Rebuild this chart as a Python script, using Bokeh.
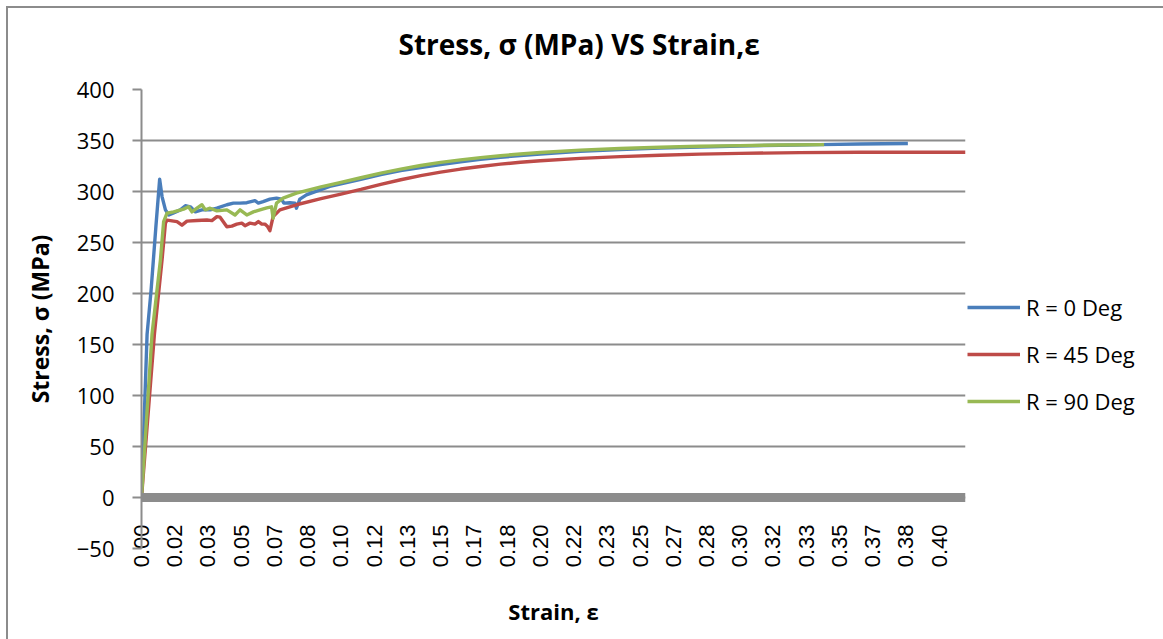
import math
from bokeh.plotting import figure
from bokeh.models import (Range1d, FixedTicker, Legend, LegendItem, Span,
                          ColumnDataSource, CustomJSTickFormatter, Title)
from bokeh.embed import file_html
from bokeh.resources import INLINE

# ---------------- data ----------------
strain_0 = [0.0, 0.0028, 0.0048, 0.0072, 0.0091, 0.0103, 0.0120, 0.0137, 0.0161, 0.0195,
            0.0220, 0.0245, 0.0270, 0.0303, 0.0344, 0.0378, 0.0428, 0.0461, 0.0494, 0.0528,
            0.0569, 0.0586, 0.0610, 0.0644, 0.0677, 0.0702, 0.0714, 0.0744, 0.0769, 0.0777,
            0.0794, 0.0827, 0.0944, 0.1000, 0.1100, 0.1200, 0.1300, 0.1400, 0.1500, 0.1600,
            0.1700, 0.1800, 0.1900, 0.2000, 0.2200, 0.2400, 0.2600, 0.2800, 0.3000, 0.3200,
            0.3400, 0.3600, 0.3843]
stress_0 = [0, 160, 203, 265, 312, 295, 282, 277, 279, 282,
            286, 285, 280, 282, 282, 283.6, 287, 288.6, 288.6, 289,
            291, 288.6, 290, 292.5, 293.5, 292.5, 288.6, 289, 288.6, 283.6,
            292.5, 296.7, 305, 307.5, 312, 316.5, 320.5, 323.5, 326.5, 329,
            331.5, 333.5, 335.3, 336.8, 339.3, 341.2, 342.6, 343.7, 344.6, 345.4,
            346, 346.5, 347]

strain_45 = [0.0, 0.0065, 0.0103, 0.0120, 0.0128, 0.0145, 0.0178, 0.0203, 0.0228, 0.0278,
             0.0328, 0.0353, 0.0378, 0.0394, 0.0428, 0.0453, 0.0478, 0.0503, 0.0519, 0.0544,
             0.0569, 0.0586, 0.0603, 0.0619, 0.0631, 0.0644, 0.0660, 0.0694, 0.0777, 0.0900,
             0.1000, 0.1100, 0.1200, 0.1300, 0.1400, 0.1500, 0.1600, 0.1700, 0.1800, 0.1900,
             0.2000, 0.2200, 0.2400, 0.2600, 0.2800, 0.3000, 0.3300, 0.3600, 0.4132]
stress_45 = [0, 160.6, 233, 269, 272, 271.5, 270.5, 267, 271, 271.5,
             272, 271.5, 275.4, 274.8, 265.5, 266, 268, 269, 266.5, 269,
             268, 270.5, 268, 268, 266, 261.6, 275.4, 282, 287, 293,
             297.5, 302, 307, 311.5, 315.5, 319, 322, 324.5, 326.8, 328.7,
             330.2, 332.5, 334.2, 335.5, 336.6, 337.4, 338.1, 338.5, 338.5]

strain_90 = [0.0, 0.0053, 0.0095, 0.0111, 0.0128, 0.0161, 0.0211, 0.0236, 0.0253, 0.0278,
             0.0303, 0.0320, 0.0344, 0.0378, 0.0428, 0.0469, 0.0494, 0.0528, 0.0561, 0.0594,
             0.0628, 0.0652, 0.0660, 0.0677, 0.0710, 0.0777, 0.0900, 0.1000, 0.1100, 0.1200,
             0.1300, 0.1400, 0.1500, 0.1600, 0.1700, 0.1800, 0.1900, 0.2000, 0.2200, 0.2400,
             0.2600, 0.2800, 0.3000, 0.3200, 0.3423]
stress_90 = [0, 160.6, 233, 270.5, 278.7, 280, 282.7, 285, 280, 283.6,
             287, 282, 283.6, 281, 282, 277, 282, 277, 280, 282,
             284, 285, 273.8, 288.6, 293.5, 298.4, 304.5, 309, 313.5, 318,
             322, 325.5, 328.5, 331, 333.2, 335.1, 336.8, 338.3, 340.6, 342.2,
             343.4, 344.3, 345, 345.6, 346]

series_names = ["R = 0 Deg", "R = 45 Deg", "R = 90 Deg"]
series_colors = ["#4A7EBB", "#BE4B48", "#98B954"]

y_ticks = [-50, 0, 50, 100, 150, 200, 250, 300, 350, 400]
x_tick_labels = ["0.00", "0.02", "0.03", "0.05", "0.07", "0.08", "0.10", "0.12", "0.13",
                 "0.15", "0.17", "0.18", "0.20", "0.22", "0.23", "0.25", "0.27", "0.28",
                 "0.30", "0.32", "0.33", "0.35", "0.37", "0.38", "0.40"]
x_tick_step = 1 / 60  # Excel category label interval expressed in strain
x_ticks = [i * x_tick_step for i in range(len(x_tick_labels))]

TXT = "Open Sans"
GRID = "#8c8c8c"

p = figure(width=1155, height=631, frame_width=824, frame_height=459,
           x_range=Range1d(0, 0.4132), y_range=Range1d(-50, 400),
           output_backend="svg", toolbar_location=None,
           min_border_left=133, min_border_right=198, min_border_top=81,
           min_border_bottom=91)
p.margin = (6, 0, 0, 6)
p.styles = {"border-left": "2px solid #8c8c8c", "border-top": "2px solid #8c8c8c"}
p.outline_line_color = None
p.background_fill_color = "white"
p.border_fill_color = "white"
p.title.text = ""
p.title.visible = False

xa = p.below[0]  # the real horizontal axis
ya = p.left[0]

# small blank gap between the chart title and the plot area
gap = Title(text=" ", text_font=TXT, text_font_size="8px", standoff=0)
p.add_layout(gap, "above")

# chart title
title = Title(text="Stress, σ (MPa)  VS  Strain,ε", align="left", offset=257,
              text_font=TXT, text_font_size="28px", text_font_style="bold",
              text_color="black", standoff=28)
p.add_layout(title, "above")

# y axis
ya.ticker = FixedTicker(ticks=y_ticks)
ya.axis_line_color = GRID
ya.axis_line_width = 2
ya.major_tick_line_color = GRID
ya.major_tick_line_width = 2
ya.major_tick_out = 9
ya.major_tick_in = 0
ya.minor_tick_line_color = None
ya.major_label_standoff = 18
ya.major_label_text_font = TXT
ya.major_label_text_font_size = "22px"
ya.major_label_text_color = "black"
ya.axis_label = "Stress, σ (MPa)"
ya.axis_label_text_font = TXT
ya.axis_label_text_font_size = "23px"
ya.axis_label_text_font_style = "bold"
ya.axis_label_text_color = "black"
ya.axis_label_standoff = 18

p.ygrid.ticker = FixedTicker(ticks=y_ticks)
p.ygrid.grid_line_color = GRID
p.ygrid.grid_line_width = 2
p.xgrid.grid_line_color = None

# x axis (labels reach up to the zero line, as in the spreadsheet chart)
xa.ticker = FixedTicker(ticks=x_ticks)
xa.formatter = CustomJSTickFormatter(args=dict(labels=x_tick_labels),
                                     code="return labels[index];")
xa.major_label_orientation = math.pi / 2
xa.axis_line_color = None
xa.major_tick_line_color = None
xa.minor_tick_line_color = None
xa.major_tick_out = 0
xa.major_tick_in = 0
xa.major_label_standoff = -24
xa.major_label_text_font = "Liberation Sans"
xa.major_label_text_font_size = "22px"
xa.major_label_text_color = "black"
xa.axis_label = "Strain, ε"
xa.axis_label_text_font = TXT
xa.axis_label_text_font_size = "22px"
xa.axis_label_text_font_style = "bold"
xa.axis_label_text_color = "black"
xa.axis_label_standoff = 26

# thick horizontal axis line at stress = 0
p.add_layout(Span(location=0, dimension="width", line_color=GRID, line_width=9))

renderers = []
for xs, ys, col in [(strain_0, stress_0, series_colors[0]),
                    (strain_45, stress_45, series_colors[1]),
                    (strain_90, stress_90, series_colors[2])]:
    src = ColumnDataSource(dict(x=xs, y=ys))
    r = p.line("x", "y", source=src, line_color=col, line_width=3.4, line_join="round")
    renderers.append(r)

legend = Legend(items=[LegendItem(label=n, renderers=[r]) for n, r in zip(series_names, renderers)],
                location=(2, 132), padding=0, margin=0, spacing=17,
                border_line_color=None, background_fill_alpha=0,
                glyph_width=53, glyph_height=24, label_height=24, label_standoff=6,
                label_text_font=TXT, label_text_font_size="22px", label_text_color="black")
p.add_layout(legend, "right")

open("out.html", "w").write(file_html(p, INLINE))
